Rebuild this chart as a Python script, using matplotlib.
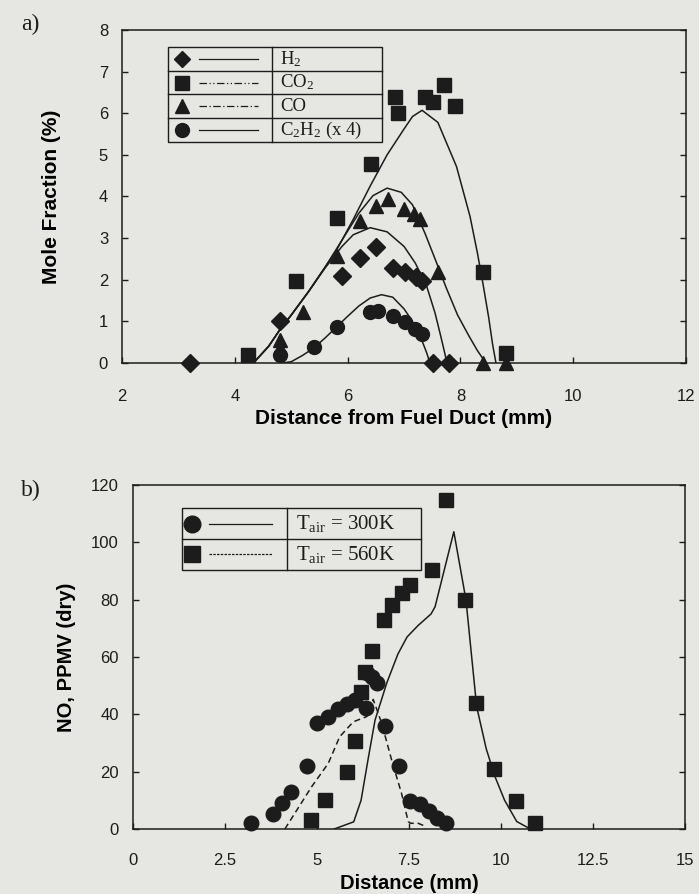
import matplotlib
matplotlib.use("Agg")
import matplotlib.pyplot as plt
from matplotlib.patches import Rectangle

plt.rcParams["font.family"] = ["Liberation Sans", "DejaVu Sans"]
plt.rcParams["mathtext.fontset"] = "custom"
plt.rcParams["mathtext.rm"] = "Liberation Serif"
plt.rcParams["mathtext.it"] = "Liberation Serif:italic"

PAPER = "#e6e6e3"
INK = "#1c1c1c"

# ---- panel a: species mole fractions (%) ----
h2_x = [3.21, 4.80, 5.90, 6.22, 6.51, 6.81, 7.02, 7.22, 7.32, 7.52, 7.79]
h2_y = [0.0, 1.00, 2.10, 2.51, 2.79, 2.27, 2.18, 2.06, 1.98, 0.0, 0.0]
co2_x = [4.23, 5.09, 5.82, 6.41, 6.84, 6.89, 7.38, 7.51, 7.70, 7.90, 8.40, 8.80]
co2_y = [0.20, 1.98, 3.49, 4.79, 6.38, 6.00, 6.39, 6.28, 6.68, 6.18, 2.18, 0.24]
co_x = [4.80, 4.80, 5.21, 5.82, 6.22, 6.50, 6.72, 7.00, 7.18, 7.29, 7.60, 8.40, 8.80]
co_y = [0.54, 0.36, 1.22, 2.58, 3.41, 3.77, 3.93, 3.69, 3.57, 3.47, 2.18, 0.0, 0.0]
c2h2_x = [4.80, 5.41, 5.82, 6.40, 6.53, 6.81, 7.01, 7.19, 7.32]
c2h2_y = [0.18, 0.38, 0.86, 1.22, 1.26, 1.14, 0.98, 0.82, 0.70]

# model curves
co2_cx = [4.33, 4.6, 4.8, 5.0, 5.3, 5.6, 5.8, 6.1, 6.4, 6.7, 7.0, 7.15, 7.32,
          7.6, 7.93, 8.17, 8.3, 8.4, 8.5, 8.57, 8.63]
co2_cy = [0.0, 0.40, 0.80, 1.15, 1.70, 2.30, 2.70, 3.45, 4.25, 5.00, 5.62, 5.92, 6.07,
          5.78, 4.72, 3.52, 2.65, 1.90, 1.10, 0.45, 0.0]
co_cx = [4.33, 4.6, 4.8, 5.0, 5.3, 5.6, 5.9, 6.2, 6.45, 6.7, 6.95, 7.15, 7.37,
         7.55, 7.75, 7.95, 8.15, 8.3, 8.45]
co_cy = [0.0, 0.40, 0.80, 1.15, 1.70, 2.30, 2.95, 3.60, 4.02, 4.20, 4.10, 3.80, 3.12,
         2.50, 1.80, 1.15, 0.65, 0.30, 0.0]
h2_cx = [4.33, 4.6, 4.8, 5.0, 5.3, 5.6, 5.9, 6.1, 6.4, 6.7, 7.0, 7.2, 7.4,
         7.55, 7.65, 7.72, 7.76]
h2_cy = [0.0, 0.40, 0.80, 1.15, 1.70, 2.28, 2.80, 3.08, 3.25, 3.15, 2.80, 2.40, 1.85,
         1.20, 0.65, 0.25, 0.0]
c2h2_cx = [4.85, 5.0, 5.2, 5.4, 5.6, 5.8, 6.0, 6.2, 6.4, 6.6, 6.8, 7.0, 7.15,
           7.3, 7.4, 7.46]
c2h2_cy = [0.0, 0.03, 0.18, 0.36, 0.60, 0.86, 1.12, 1.37, 1.56, 1.64, 1.58, 1.30, 1.00,
           0.60, 0.25, 0.0]

# ---- panel b: NO (ppmv, dry) ----
t300_x = [3.22, 3.81, 4.04, 4.31, 4.72, 5.01, 5.31, 5.58, 5.81, 6.03, 6.33, 6.35,
          6.51, 6.64, 6.84, 7.22, 7.53, 7.81, 8.04, 8.27, 8.52]
t300_y = [2.2, 5.1, 9.2, 13.0, 22.1, 36.9, 39.0, 41.8, 43.6, 45.0, 42.1, 54.5,
          53.1, 50.8, 35.8, 21.9, 9.8, 8.7, 6.3, 4.0, 2.0]
t560_x = [4.83, 5.22, 5.82, 6.03, 6.21, 6.30, 6.51, 6.81, 7.03, 7.30, 7.53,
          8.12, 8.52, 9.03, 9.32, 9.82, 10.41, 10.92]
t560_y = [3.1, 10.1, 20.0, 30.8, 47.9, 54.9, 62.1, 72.9, 78.1, 82.2, 85.1,
          90.3, 114.8, 79.9, 43.9, 20.8, 9.8, 2.0]

solid_x = [5.47, 6.0, 6.2, 6.4, 6.58, 6.9, 7.2, 7.45, 7.75, 8.1, 8.21, 8.72,
           9.05, 9.34, 9.6, 9.84, 10.1, 10.43, 10.8]
solid_y = [0.0, 2.5, 10.0, 25.0, 38.0, 51.0, 61.0, 67.0, 71.0, 75.0, 77.5, 103.7,
           79.9, 42.7, 28.0, 18.2, 10.0, 2.6, 0.0]
dash_x = [4.13, 4.5, 4.86, 5.31, 5.62, 5.99, 6.35, 6.45, 6.53, 6.62, 6.76, 7.03,
          7.30, 7.48, 7.55, 7.75, 7.9, 7.95]
dash_y = [0.0, 7.5, 14.8, 22.9, 32.2, 37.4, 39.2, 41.0, 45.2, 42.0, 36.9, 24.1,
          12.4, 2.6, 2.0, 2.0, 1.2, 0.0]


def style_axes(ax, xpad, ypad):
    ax.set_facecolor(PAPER)
    for s in ax.spines.values():
        s.set_linewidth(1.1)
        s.set_color(INK)
    ax.tick_params(direction="in", length=4, width=1.0, colors=INK,
                   labelsize=12, right=True)
    ax.tick_params(axis="x", pad=xpad)
    ax.tick_params(axis="y", pad=ypad)


def table_legend(ax, x0, x1, xdiv, y0, y1, rows, mx, lx, tx, fs):
    # boxed key with a vertical divider and one ruled row per entry
    kw = dict(transform=ax.transAxes, clip_on=False, zorder=5)
    ax.add_patch(Rectangle((x0, y0), x1 - x0, y1 - y0, facecolor="none",
                           edgecolor=INK, lw=1.0, **kw))
    ax.plot([xdiv, xdiv], [y0, y1], color=INK, lw=1.0, **kw)
    n = len(rows)
    h = (y1 - y0) / n
    for i, (marker, ms, ls, label) in enumerate(rows):
        yc = y1 - (i + 0.5) * h
        if i > 0:
            ax.plot([x0, x1], [y1 - i * h] * 2, color=INK, lw=1.0, **kw)
        ax.plot([mx], [yc], marker=marker, ms=ms, color=INK, ls="none", **kw)
        ax.plot(lx, [yc, yc], color=INK, lw=0.9, ls=ls, **kw)
        ax.text(tx, yc, label, fontsize=fs, family="Liberation Serif",
                va="center", ha="left", color=INK, **kw)


fig = plt.figure(figsize=(6.99, 8.94), dpi=100, facecolor=PAPER)

# panel a
ax1 = fig.add_axes([0.1745, 0.594, 0.807, 0.3725])
style_axes(ax1, xpad=19, ypad=10)
for cx, cy in [(co2_cx, co2_cy), (co_cx, co_cy), (h2_cx, h2_cy), (c2h2_cx, c2h2_cy)]:
    ax1.plot(cx, cy, color=INK, lw=1.1, zorder=2)
ax1.plot(h2_x, h2_y, "D", ms=9, color=INK, clip_on=False, zorder=3)
ax1.plot(co2_x, co2_y, "s", ms=10.5, color=INK, clip_on=False, zorder=3)
ax1.plot(co_x, co_y, "^", ms=10.5, color=INK, clip_on=False, zorder=3)
ax1.plot(c2h2_x, c2h2_y, "o", ms=10, color=INK, clip_on=False, zorder=3)
ax1.set_xlim(2, 12)
ax1.set_ylim(0, 8)
ax1.set_xticks([2, 4, 6, 8, 10, 12])
ax1.set_yticks(range(0, 9))
ax1.set_xlabel("Distance from Fuel Duct (mm)", fontsize=15, fontweight="bold", va="center")
ax1.set_ylabel("Mole Fraction (%)", fontsize=15, fontweight="bold", va="center")
ax1.xaxis.set_label_coords(0.5, -0.166)
ax1.yaxis.set_label_coords(-0.125, 0.5)
table_legend(ax1, 0.0816, 0.461, 0.266, 0.664, 0.949,
             [("D", 8.5, "-", "H$_2$"),
              ("s", 10.5, (0, (6, 2, 1, 2, 1, 2)), "CO$_2$"),
              ("^", 10.5, (0, (6, 2, 1, 2)), "CO"),
              ("o", 10, "-", "C$_2$H$_2$ (x 4)")],
             mx=0.106, lx=[0.137, 0.241], tx=0.280, fs=13.5)
fig.text(0.030, 0.973, "a)", fontsize=17, family="Liberation Serif", va="center", color=INK)

# panel b
ax2 = fig.add_axes([0.190, 0.0727, 0.790, 0.3848])
style_axes(ax2, xpad=17, ypad=10)
ax2.plot(solid_x, solid_y, color=INK, lw=1.1, zorder=2)
ax2.plot(dash_x, dash_y, color=INK, lw=1.1, ls=(0, (4, 2.5)), zorder=2)
ax2.plot(t300_x, t300_y, "o", ms=10.5, color=INK, clip_on=False, zorder=3)
ax2.plot(t560_x, t560_y, "s", ms=10.5, color=INK, clip_on=False, zorder=3)
ax2.set_xlim(0, 15)
ax2.set_ylim(0, 120)
ax2.set_xticks([0, 2.5, 5, 7.5, 10, 12.5, 15])
ax2.set_xticklabels(["0", "2.5", "5", "7.5", "10", "12.5", "15"])
ax2.set_yticks(range(0, 121, 20))
ax2.set_xlabel("Distance (mm)", fontsize=14.5, fontweight="bold", va="center")
ax2.set_ylabel("NO, PPMV (dry)", fontsize=14.5, fontweight="bold", va="center")
ax2.xaxis.set_label_coords(0.5, -0.157)
ax2.yaxis.set_label_coords(-0.120, 0.5)
table_legend(ax2, 0.0888, 0.522, 0.279, 0.753, 0.933,
             [("o", 12, "-", "T$_\\mathrm{air}$ = 300K"),
              ("s", 11, (0, (2, 1)), "T$_\\mathrm{air}$ = 560K")],
             mx=0.108, lx=[0.138, 0.252], tx=0.295, fs=15)
fig.text(0.030, 0.451, "b)", fontsize=17, family="Liberation Serif", va="center", color=INK)

fig.savefig("out.png", dpi=100, facecolor=PAPER)
